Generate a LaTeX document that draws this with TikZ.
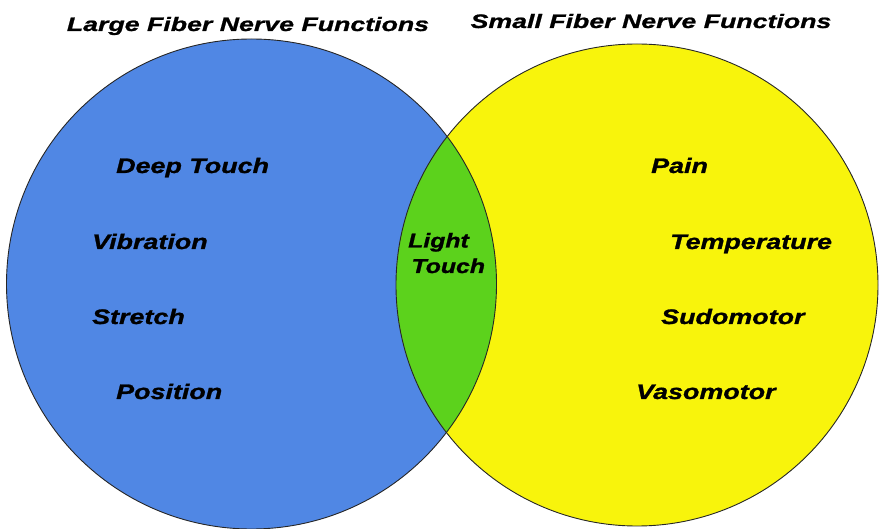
\documentclass[tikz,border=0pt]{standalone}
\usepackage{fontspec}
\usepackage{tikz}
\usetikzlibrary{positioning}
\newfontfamily\vennwide{Liberation Sans}[FakeStretch=1.28, FakeBold=1.2]
\newfontfamily\vennlens{Liberation Sans}[FakeStretch=1.24, FakeBold=1.2]
\newfontfamily\venntitle{Liberation Sans}[FakeStretch=1.37, FakeBold=1]
\definecolor{largeblue}{RGB}{80,135,228}
\definecolor{smallyellow}{RGB}{248,244,12}
\definecolor{overlapgreen}{RGB}{92,210,28}

\begin{document}
\begin{tikzpicture}[
    x=1pt, y=-1pt,
    ttl/.style={anchor=base, font=\venntitle\bfseries\itshape\fontsize{19.5}{23}\selectfont},
    fn/.style={anchor=base west, inner sep=0pt, font=\vennwide\bfseries\itshape\fontsize{21}{25}\selectfont},
    lens/.style={anchor=base west, align=left, inner sep=0pt, font=\vennlens\bfseries\itshape\fontsize{20}{26}\selectfont},
    rim/.style={draw=black!85, line width=0.9pt}
  ]
    \useasboundingbox (0,0) rectangle (879,529);
    % the two sets and their overlap
    \fill[largeblue] (251.5,284) circle[radius=245];
    \fill[smallyellow] (637,285) circle[radius=241];
    \begin{scope}
      \clip (251.5,284) circle[radius=245];
      \fill[overlapgreen] (637,285) circle[radius=241];
    \end{scope}
    \draw[rim] (251.5,284) circle[radius=245];
    \draw[rim] (637,285) circle[radius=241];

    \node[ttl] (largettl) at (248,31) {Large Fiber Nerve Functions};
    \node[ttl] (smallttl) at (651,28) {Small Fiber Nerve Functions};

    \node[fn] (deep) at (116,173) {Deep Touch};
    \node[fn] (vibration) at (92,249) {Vibration};
    \node[fn] (stretch) at (92,324) {Stretch};
    \node[fn] (position) at (116,399) {Position};

    \node[fn] (pain) at (651,173) {Pain};
    \node[fn] (temperature) at (670,249) {Temperature};
    \node[fn] (sudomotor) at (661,324) {Sudomotor};
    \node[fn] (vasomotor) at (636,399) {Vasomotor};

    \node[lens] (light) at (408,273) {Light\\[-0.5pt]\,Touch};
  \end{tikzpicture}
\end{document}
